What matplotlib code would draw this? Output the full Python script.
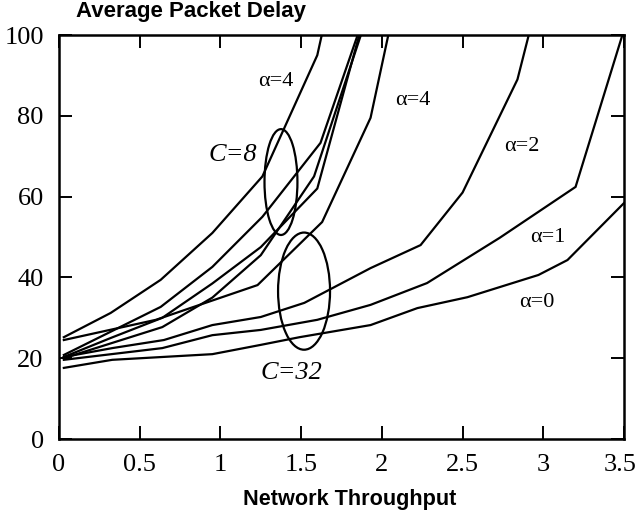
import matplotlib
matplotlib.use('Agg')
import matplotlib.pyplot as plt
import matplotlib.transforms as mtransforms
from matplotlib.patches import Ellipse

plt.rcParams['font.family'] = ['Liberation Serif', 'DejaVu Serif']

# C = 8 curves (x = network throughput, y = average packet delay)
c8_a4_x = [0.03, 0.32, 0.63, 0.95, 1.26, 1.60, 1.65]
c8_a4_y = [25.2, 31.2, 39.4, 51.0, 65.0, 95.0, 104.0]
c8_a2_x = [0.03, 0.63, 0.95, 1.26, 1.62, 1.85]
c8_a2_y = [20.8, 32.7, 42.6, 55.0, 73.3, 100.0]
c8_a1_x = [0.03, 0.32, 0.64, 0.95, 1.25, 1.60, 1.86]
c8_a1_y = [20.3, 25.0, 30.0, 38.5, 47.5, 62.0, 100.0]
c8_a0_x = [0.03, 0.64, 0.95, 1.25, 1.58, 1.87]
c8_a0_y = [20.0, 27.7, 35.0, 45.5, 65.0, 100.0]

# C = 32 curves
c32_a4_x = [0.03, 0.60, 1.23, 1.63, 1.93, 2.04]
c32_a4_y = [24.5, 29.5, 38.1, 53.7, 79.5, 100.0]
c32_a2_x = [0.03, 0.33, 0.65, 0.95, 1.25, 1.52, 1.93, 2.24, 2.50, 2.84, 2.91]
c32_a2_y = [20.3, 22.5, 24.5, 28.2, 30.2, 33.7, 42.3, 48.0, 61.0, 89.0, 100.0]
c32_a1_x = [0.03, 0.64, 0.95, 1.25, 1.60, 1.93, 2.28, 2.73, 3.20, 3.49]
c32_a1_y = [19.6, 22.5, 25.7, 27.0, 29.5, 33.2, 38.6, 49.8, 62.4, 100.0]
c32_a0_x = [0.03, 0.33, 0.95, 1.25, 1.49, 1.93, 2.22, 2.53, 2.97, 3.15, 3.50]
c32_a0_y = [17.6, 19.6, 21.0, 23.3, 25.2, 28.2, 32.4, 35.1, 40.6, 44.3, 58.4]

curves = [
    (c8_a4_x, c8_a4_y), (c8_a2_x, c8_a2_y), (c8_a1_x, c8_a1_y), (c8_a0_x, c8_a0_y),
    (c32_a4_x, c32_a4_y), (c32_a2_x, c32_a2_y), (c32_a1_x, c32_a1_y), (c32_a0_x, c32_a0_y),
]

xticks = [0, 0.5, 1, 1.5, 2, 2.5, 3, 3.5]
xtick_labels = ['0', '0.5', '1', '1.5', '2', '2.5', '3', '3.5']
yticks = [0, 20, 40, 60, 80, 100]

fig = plt.figure(figsize=(6.39, 5.16), dpi=100)
ax = fig.add_axes([59 / 639, 1 - 439 / 516, 565 / 639, 404 / 516])

for xs, ys in curves:
    ax.plot(xs, ys, color='black', lw=1.6, solid_joinstyle='miter')

# groups of curves
ax.add_patch(Ellipse((1.375, 63.6), 0.204, 26.2, fill=False, lw=1.6, color='black'))
ax.add_patch(Ellipse((1.518, 36.6), 0.322, 29.0, fill=False, lw=1.6, color='black'))

ax.text(1.08, 70.3, 'C=8', style='italic', fontsize=19, ha='center', va='center')
ax.text(1.44, 16.3, 'C=32', style='italic', fontsize=19, ha='center', va='center')
ax.text(1.345, 88.4, 'α=4', fontsize=16, ha='center', va='center')
ax.text(2.19, 83.7, 'α=4', fontsize=16, ha='center', va='center')
ax.text(2.87, 72.3, 'α=2', fontsize=16, ha='center', va='center')
ax.text(3.03, 50.0, 'α=1', fontsize=16, ha='center', va='center')
ax.text(2.96, 33.7, 'α=0', fontsize=16, ha='center', va='center')

ax.set_xlim(0, 3.5)
ax.set_ylim(0, 100)
ax.set_xticks(xticks)
ax.set_xticklabels(xtick_labels)
ax.set_yticks(yticks)
ax.tick_params(direction='in', length=9.5, width=1.4, top=True, right=True, labelsize=19)
ax.tick_params(axis='x', pad=11)
ax.tick_params(axis='y', pad=11)
for s in ax.spines.values():
    s.set_linewidth(1.8)

# keep the last x label inside the figure
last = ax.get_xticklabels()[-1]
last.set_transform(last.get_transform() + mtransforms.ScaledTranslation(-3 / 72, 0, fig.dpi_scale_trans))

sans = ['Liberation Sans Narrow', 'Liberation Sans']
fig.text(76 / 639, 1 - 11 / 516, 'Average Packet Delay', family=sans, weight='bold',
         fontsize=16, va='center', ha='left')
fig.text(350 / 639, 1 - 500 / 516, 'Network Throughput', family=sans, weight='bold',
         fontsize=15.6, va='center', ha='center')

fig.savefig('out.png', dpi=100)
